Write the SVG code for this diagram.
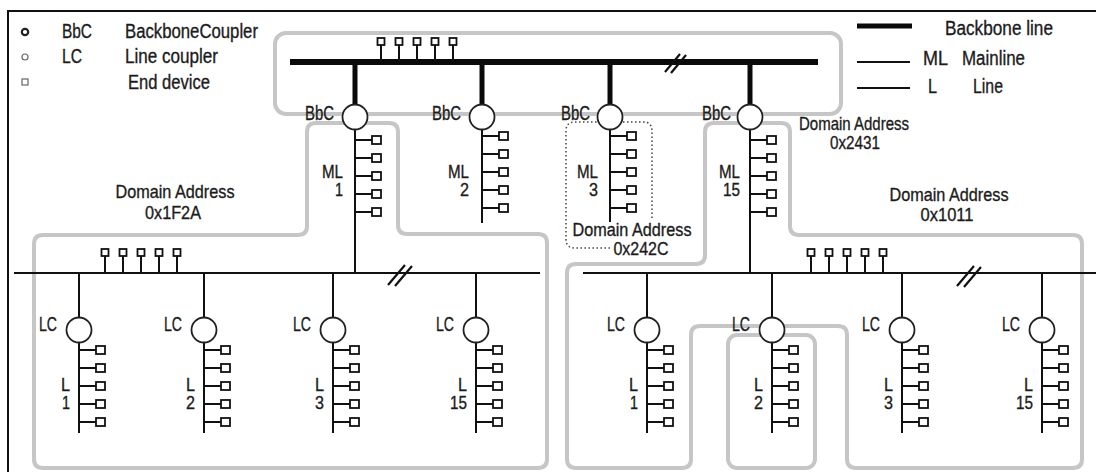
<svg xmlns="http://www.w3.org/2000/svg" xmlns:xlink="http://www.w3.org/1999/xlink" width="1096" height="472" viewBox="0 0 1096 472">
<style>
.frame{stroke:#111;stroke-width:2;fill:none}
.dom{fill:none;stroke:#c6c6c6;stroke-width:4;stroke-linejoin:round}
.dot{fill:none;stroke:#444;stroke-width:1.5;stroke-dasharray:1.5 2.5}
.bb{stroke:#0a0a0a;stroke-width:6;fill:none}
.drop{stroke:#0a0a0a;stroke-width:5;fill:none}
.ln{stroke:#111;stroke-width:2;fill:none}
.brk{stroke:#111;stroke-width:2.2;fill:none}
.dev{fill:#fff;stroke:#111;stroke-width:1.8}
.cpl{fill:#fff;stroke:#222;stroke-width:1.8}
text{font-family:"Liberation Sans",Arial,sans-serif;fill:#1c1c1c;stroke:#1c1c1c;stroke-width:0.35;font-size:20px}
.sm{font-size:18px}
.dom-t{font-size:19px}
.mid{text-anchor:middle}
.end{text-anchor:end}
</style>
<defs>
<g id="stack">
<path class="ln" d="M0,0H17M0,18H17M0,36H17M0,54H17M0,72H17"/>
<rect class="dev" x="17" y="-4" width="9" height="8"/>
<rect class="dev" x="17" y="14" width="9" height="8"/>
<rect class="dev" x="17" y="32" width="9" height="8"/>
<rect class="dev" x="17" y="50" width="9" height="8"/>
<rect class="dev" x="17" y="68" width="9" height="8"/>
</g>
<g id="taps">
<path class="ln" d="M0,0V-17M18,0V-17M36,0V-17M54,0V-17M72,0V-17"/>
<rect class="dev" x="-3.5" y="-24" width="7" height="7"/>
<rect class="dev" x="14.5" y="-24" width="7" height="7"/>
<rect class="dev" x="32.5" y="-24" width="7" height="7"/>
<rect class="dev" x="50.5" y="-24" width="7" height="7"/>
<rect class="dev" x="68.5" y="-24" width="7" height="7"/>
</g>
</defs>

<rect width="1096" height="472" fill="#fff"/>
<path class="frame" d="M8,472V11H1096"/>

<g id="legend">
<circle cx="25" cy="32" r="3.2" fill="#fff" stroke="#222" stroke-width="2.2"/>
<circle cx="25" cy="57" r="3" fill="#fff" stroke="#666" stroke-width="1.2"/>
<rect x="22" y="79" width="6" height="6" fill="#fff" stroke="#666" stroke-width="1.2"/>
<text x="62" y="38" textLength="30" lengthAdjust="spacingAndGlyphs">BbC</text>
<text x="125" y="38" textLength="133" lengthAdjust="spacingAndGlyphs">BackboneCoupler</text>
<text x="62" y="63" textLength="20" lengthAdjust="spacingAndGlyphs">LC</text>
<text x="125" y="63" textLength="93" lengthAdjust="spacingAndGlyphs">Line coupler</text>
<text x="128" y="89" textLength="82" lengthAdjust="spacingAndGlyphs">End device</text>
<line x1="857" y1="26" x2="912" y2="26" stroke="#0a0a0a" stroke-width="5"/>
<line x1="857" y1="62" x2="910" y2="62" class="ln"/>
<line x1="857" y1="88" x2="910" y2="88" class="ln"/>
<text x="945" y="35" textLength="108" lengthAdjust="spacingAndGlyphs">Backbone line</text>
<text x="923" y="65" textLength="25" lengthAdjust="spacingAndGlyphs">ML</text>
<text x="962" y="65" textLength="63" lengthAdjust="spacingAndGlyphs">Mainline</text>
<text x="928" y="93" textLength="9" lengthAdjust="spacingAndGlyphs">L</text>
<text x="973" y="93" textLength="30" lengthAdjust="spacingAndGlyphs">Line</text>
</g>

<g id="domains">
<rect class="dom" x="275" y="33" width="566" height="81" rx="11"/>
<path class="dom" d="M355,123H316Q307,123 307,132V226Q307,235 298,235H43Q34,235 34,244V459Q34,468 43,468H538Q547,468 547,459V243Q547,234 538,234H407Q398,234 398,225V132Q398,123 389,123Z"/>
<path class="dom" d="M750,123H714Q705,123 705,132V255Q705,264 696,264H576Q567,264 567,273V459Q567,468 576,468H682Q691,468 691,459V335Q691,326 700,326H838Q847,326 847,335V459Q847,468 856,468H1073Q1082,468 1082,459V244Q1082,235 1073,235H799Q790,235 790,226V132Q790,123 781,123Z"/>
<rect class="dom" x="728" y="335" width="87" height="133" rx="9"/>
<path class="dot" d="M652,218V131Q652,122 643,122H575Q566,122 566,131V239Q566,248 575,248H610"/>
</g>

<g id="connectors">
<line class="bb" x1="290" y1="62" x2="818" y2="62"/>
<path class="drop" d="M355,62V105M482,62V105M610,62V105M750,62V105"/>
<path class="ln" d="M355,129V273M482,129V223M610,129V222M750,129V273"/>
<line class="ln" x1="14" y1="273" x2="540" y2="273"/>
<line class="ln" x1="583" y1="273" x2="1096" y2="273"/>
<path class="ln" d="M79,273V318M204,273V318M333,273V318M476,273V318M647,273V318M772,273V318M902,273V318M1042,273V318"/>
<path class="ln" d="M79,342V433M204,342V433M333,342V433M476,342V433M647,342V433M772,342V433M902,342V433M1042,342V433"/>
<path class="brk" d="M665,72L680,54M671,73L686,55"/>
<path class="brk" d="M388,285L405,265M395,286L412,266"/>
<path class="brk" d="M957,286L974,266M964,287L981,267"/>
</g>

<g id="backbone-devices"><use xlink:href="#taps" x="381" y="62"/></g>
<g id="line1-devices"><use xlink:href="#taps" x="105" y="273"/></g>
<g id="line2-devices"><use xlink:href="#taps" x="811" y="273"/></g>

<g id="bbc1"><circle class="cpl" cx="355" cy="117" r="12.5"/><text class="end" x="334" y="120" textLength="29" lengthAdjust="spacingAndGlyphs">BbC</text></g>
<g id="bbc2"><circle class="cpl" cx="482" cy="117" r="12.5"/><text class="end" x="461" y="120" textLength="29" lengthAdjust="spacingAndGlyphs">BbC</text></g>
<g id="bbc3"><circle class="cpl" cx="610" cy="117" r="12.5"/><text class="end" x="590" y="120" textLength="29" lengthAdjust="spacingAndGlyphs">BbC</text></g>
<g id="bbc4"><circle class="cpl" cx="750" cy="117" r="12.5"/><text class="end" x="731" y="120" textLength="29" lengthAdjust="spacingAndGlyphs">BbC</text></g>

<g id="ml1"><use xlink:href="#stack" x="355" y="140"/><text class="sm end" x="343" y="178" textLength="21" lengthAdjust="spacingAndGlyphs">ML</text><text class="sm end" x="343" y="196" textLength="8" lengthAdjust="spacingAndGlyphs">1</text></g>
<g id="ml2"><use xlink:href="#stack" x="482" y="136"/><text class="sm end" x="469" y="178" textLength="21" lengthAdjust="spacingAndGlyphs">ML</text><text class="sm end" x="469" y="196" textLength="9" lengthAdjust="spacingAndGlyphs">2</text></g>
<g id="ml3"><use xlink:href="#stack" x="610" y="136"/><text class="sm end" x="598" y="178" textLength="21" lengthAdjust="spacingAndGlyphs">ML</text><text class="sm end" x="598" y="196" textLength="9" lengthAdjust="spacingAndGlyphs">3</text></g>
<g id="ml15"><use xlink:href="#stack" x="750" y="140"/><text class="sm end" x="740" y="178" textLength="21" lengthAdjust="spacingAndGlyphs">ML</text><text class="sm end" x="740" y="196" textLength="17" lengthAdjust="spacingAndGlyphs">15</text></g>

<g id="lc-a1"><circle class="cpl" cx="79" cy="330" r="12.5"/><text class="end" x="57" y="331" textLength="18" lengthAdjust="spacingAndGlyphs">LC</text><use xlink:href="#stack" x="79" y="350"/><text class="sm end" x="70" y="391" textLength="9" lengthAdjust="spacingAndGlyphs">L</text><text class="sm end" x="70" y="409" textLength="8" lengthAdjust="spacingAndGlyphs">1</text></g>
<g id="lc-a2"><circle class="cpl" cx="204" cy="330" r="12.5"/><text class="end" x="182" y="331" textLength="18" lengthAdjust="spacingAndGlyphs">LC</text><use xlink:href="#stack" x="204" y="350"/><text class="sm end" x="195" y="391" textLength="9" lengthAdjust="spacingAndGlyphs">L</text><text class="sm end" x="195" y="409" textLength="9" lengthAdjust="spacingAndGlyphs">2</text></g>
<g id="lc-a3"><circle class="cpl" cx="333" cy="330" r="12.5"/><text class="end" x="311" y="331" textLength="18" lengthAdjust="spacingAndGlyphs">LC</text><use xlink:href="#stack" x="333" y="350"/><text class="sm end" x="324" y="391" textLength="9" lengthAdjust="spacingAndGlyphs">L</text><text class="sm end" x="324" y="409" textLength="9" lengthAdjust="spacingAndGlyphs">3</text></g>
<g id="lc-a15"><circle class="cpl" cx="476" cy="330" r="12.5"/><text class="end" x="454" y="331" textLength="18" lengthAdjust="spacingAndGlyphs">LC</text><use xlink:href="#stack" x="476" y="350"/><text class="sm end" x="467" y="391" textLength="9" lengthAdjust="spacingAndGlyphs">L</text><text class="sm end" x="467" y="409" textLength="17" lengthAdjust="spacingAndGlyphs">15</text></g>

<g id="lc-b1"><circle class="cpl" cx="647" cy="330" r="12.5"/><text class="end" x="625" y="331" textLength="18" lengthAdjust="spacingAndGlyphs">LC</text><use xlink:href="#stack" x="647" y="350"/><text class="sm end" x="638" y="391" textLength="9" lengthAdjust="spacingAndGlyphs">L</text><text class="sm end" x="638" y="409" textLength="8" lengthAdjust="spacingAndGlyphs">1</text></g>
<g id="lc-b2"><circle class="cpl" cx="772" cy="330" r="12.5"/><text class="end" x="750" y="331" textLength="18" lengthAdjust="spacingAndGlyphs">LC</text><use xlink:href="#stack" x="772" y="350"/><text class="sm end" x="763" y="391" textLength="9" lengthAdjust="spacingAndGlyphs">L</text><text class="sm end" x="763" y="409" textLength="9" lengthAdjust="spacingAndGlyphs">2</text></g>
<g id="lc-b3"><circle class="cpl" cx="902" cy="330" r="12.5"/><text class="end" x="880" y="331" textLength="18" lengthAdjust="spacingAndGlyphs">LC</text><use xlink:href="#stack" x="902" y="350"/><text class="sm end" x="893" y="391" textLength="9" lengthAdjust="spacingAndGlyphs">L</text><text class="sm end" x="893" y="409" textLength="9" lengthAdjust="spacingAndGlyphs">3</text></g>
<g id="lc-b15"><circle class="cpl" cx="1042" cy="330" r="12.5"/><text class="end" x="1020" y="331" textLength="18" lengthAdjust="spacingAndGlyphs">LC</text><use xlink:href="#stack" x="1042" y="350"/><text class="sm end" x="1033" y="391" textLength="9" lengthAdjust="spacingAndGlyphs">L</text><text class="sm end" x="1033" y="409" textLength="17" lengthAdjust="spacingAndGlyphs">15</text></g>

<g id="domain-labels">
<text class="dom-t mid" x="175" y="198" textLength="119" lengthAdjust="spacingAndGlyphs">Domain Address</text>
<text class="dom-t mid" x="173" y="219" textLength="56" lengthAdjust="spacingAndGlyphs">0x1F2A</text>
<text class="dom-t mid" x="854" y="130" textLength="110" lengthAdjust="spacingAndGlyphs">Domain Address</text>
<text class="dom-t mid" x="855" y="149" textLength="50" lengthAdjust="spacingAndGlyphs">0x2431</text>
<text class="dom-t mid" x="632" y="236" textLength="119" lengthAdjust="spacingAndGlyphs">Domain Address</text>
<text class="dom-t mid" x="641" y="255" textLength="55" lengthAdjust="spacingAndGlyphs">0x242C</text>
<text class="dom-t mid" x="949" y="201" textLength="119" lengthAdjust="spacingAndGlyphs">Domain Address</text>
<text class="dom-t mid" x="947" y="221" textLength="53" lengthAdjust="spacingAndGlyphs">0x1011</text>
</g>
</svg>
